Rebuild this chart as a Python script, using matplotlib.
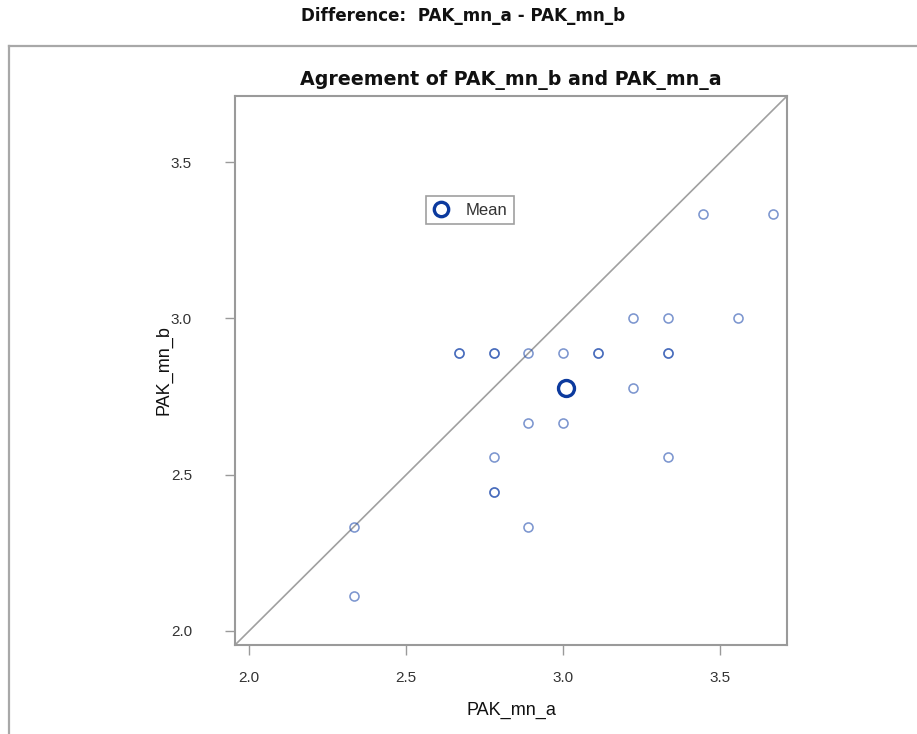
import matplotlib
matplotlib.use("Agg")
import matplotlib.pyplot as plt
from matplotlib.lines import Line2D
import numpy as np

plt.rcParams['font.family'] = ['Liberation Sans', 'DejaVu Sans']

# Paired observations (each row is one subject); repeated pairs overlap
pak_mn_a = [3.4444, 3.6667, 3.2222, 3.3333, 3.5556,
            2.6667, 2.6667, 2.7778, 2.7778, 2.8889, 3.0000,
            3.1111, 3.1111, 3.3333, 3.3333,
            3.2222, 2.8889, 3.0000, 2.7778, 3.3333,
            2.7778, 2.7778, 2.8889, 2.3333, 2.3333]
pak_mn_b = [3.3333, 3.3333, 3.0000, 3.0000, 3.0000,
            2.8889, 2.8889, 2.8889, 2.8889, 2.8889, 2.8889,
            2.8889, 2.8889, 2.8889, 2.8889,
            2.7778, 2.6667, 2.6667, 2.5556, 2.5556,
            2.4444, 2.4444, 2.3333, 2.3333, 2.1111]

x_ticks = [2.0, 2.5, 3.0, 3.5]
y_ticks = [2.0, 2.5, 3.0, 3.5]
lims = (1.955, 3.712)

W, H = 917, 734
fig = plt.figure(figsize=(W / 100, H / 100), dpi=100)

# Output panel border (top and left edges)
frame_c = '#a8a8a8'
fig.add_artist(Line2D([9 / W, 1.0], [1 - 46 / H, 1 - 46 / H], color=frame_c, lw=1.6,
                      transform=fig.transFigure))
fig.add_artist(Line2D([9 / W, 9 / W], [0.0, 1 - 46 / H], color=frame_c, lw=1.6,
                      transform=fig.transFigure))

fig.text(463 / W, 1 - 16 / H, 'Difference:  PAK_mn_a - PAK_mn_b', ha='center', va='center',
         fontsize=12.1, fontweight='bold', color='#111111', family='DejaVu Sans')

ax = fig.add_axes([235 / W, 1 - 645 / H, 552 / W, 549 / H])

ax.plot(lims, lims, color='#a0a0a0', lw=1.2, zorder=1)

ax.plot(pak_mn_a, pak_mn_b, linestyle='none', marker='o', markersize=6.5,
        markerfacecolor='none', markeredgecolor='#2550b0', markeredgewidth=1.15,
        alpha=0.6, zorder=2)

mean_a = np.mean(pak_mn_a)
mean_b = np.mean(pak_mn_b)
mean_h, = ax.plot([mean_a], [mean_b], linestyle='none', marker='o', markersize=11.5,
                  markerfacecolor='none', markeredgecolor='#0c3a9e', markeredgewidth=2.4,
                  zorder=3, label='Mean')

ax.set_xlim(lims)
ax.set_ylim(lims)
ax.set_xticks(x_ticks)
ax.set_yticks(y_ticks)
ax.set_xticklabels([f'{v:.1f}' for v in x_ticks])
ax.set_yticklabels([f'{v:.1f}' for v in y_ticks])

for s in ax.spines.values():
    s.set_color('#9a9a9a')
    s.set_linewidth(1.5)
ax.tick_params(direction='out', length=7, width=1, color='#9a9a9a',
               labelsize=11, labelcolor='#333333')
ax.tick_params(axis='x', pad=12)
ax.tick_params(axis='y', pad=24)

ax.set_xlabel('PAK_mn_a', fontsize=13, color='#111111', labelpad=12)
ax.set_ylabel('PAK_mn_b', fontsize=13, color='#111111', labelpad=-1)
ax.set_title('Agreement of PAK_mn_b and PAK_mn_a', fontsize=13.7, fontweight='bold',
             color='#111111', pad=8, family='DejaVu Sans')

leg = ax.legend(handles=[mean_h], loc='upper left', bbox_to_anchor=(0.346, 0.818),
                borderaxespad=0, fancybox=False, framealpha=1, edgecolor='#a0a0a0',
                fontsize=12, handlelength=1.0, handletextpad=1.0, borderpad=0.4,
                markerscale=0.9)
leg.get_frame().set_linewidth(1.2)
for t in leg.get_texts():
    t.set_color('#333333')

fig.savefig('out.png', dpi=100)
